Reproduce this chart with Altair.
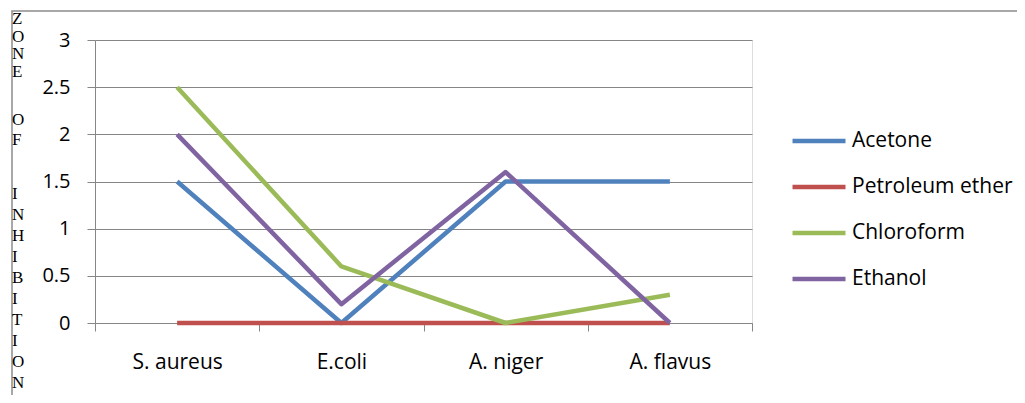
import altair as alt
import pandas as pd

categories = ["S. aureus", "E.coli", "A. niger", "A. flavus"]
series = ["Acetone", "Petroleum ether", "Chloroform", "Ethanol"]
acetone = [1.5, 0.0, 1.5, 1.5]
petroleum_ether = [0.0, 0.0, 0.0, 0.0]
chloroform = [2.5, 0.6, 0.0, 0.3]
ethanol = [2.0, 0.2, 1.6, 0.0]
colors = ["#4F81BD", "#C0504D", "#9BBB59", "#8064A2"]
y_ticks = [0, 0.5, 1, 1.5, 2, 2.5, 3]
y_title_words = ["ZONE", "OF", "INHIBITION"]
y_title_top = [-29, 72, 146]
y_title_line_height = [17.7, 20, 21.0]

rows = []
for name, vals in zip(series, [acetone, petroleum_ether, chloroform, ethanol]):
    for c, v in zip(categories, vals):
        rows.append({"organism": c, "solvent": name, "value": v})
df = pd.DataFrame(rows)

GRAY = "#868686"

lines = alt.Chart(df).mark_line(strokeWidth=4.5, strokeJoin="round").encode(
    x=alt.X("organism:N", sort=categories,
            scale=alt.Scale(type="band", paddingInner=0, paddingOuter=0),
            axis=alt.Axis(title=None, tickBand="extent", labelAngle=0, grid=False,
                          domainColor=GRAY, tickColor=GRAY, tickSize=8,
                          labelFont="Open Sans", labelFontSize=21, labelColor="black",
                          labelPadding=31, labelBaseline="middle")),
    y=alt.Y("value:Q", scale=alt.Scale(domain=[0, 3], nice=False),
            axis=alt.Axis(values=y_ticks, title=None, labelExpr="'' + datum.value",
                          grid=True, gridColor=GRAY, gridWidth=1,
                          domainColor=GRAY, tickColor=GRAY, tickSize=8,
                          labelFont="Open Sans", labelFontSize=20, labelColor="black",
                          labelPadding=17)),
    color=alt.Color("solvent:N", sort=series,
                    scale=alt.Scale(domain=series, range=colors),
                    legend=alt.Legend(title=None, orient="none", legendX=695, legendY=89,
                                      symbolType="stroke", symbolStrokeWidth=4.5,
                                      symbolSize=2809, clipHeight=24, rowPadding=22,
                                      labelOffset=4, labelFont="Open Sans", labelLimit=400,
                                      labelFontSize=21, labelColor="black", padding=0)),
    order=alt.Order("organism_idx:Q"),
).transform_calculate(
    organism_idx="indexof(['S. aureus','E.coli','A. niger','A. flavus'], datum.organism)"
)

title_layers = []
for word, top, lh in zip(y_title_words, y_title_top, y_title_line_height):
    title_layers.append(
        alt.Chart(alt.Data(values=[{"t": list(word)}])).mark_text(
            align="left", baseline="top", font="Liberation Serif", fontSize=17,
            lineHeight=lh, color="black"
        ).encode(text="t:N", x=alt.value(-83), y=alt.value(top))
    )

frame = alt.Chart(alt.Data(values=[{"k": 1}])).mark_rect(
    fill=None, stroke="#8c8c8c", strokeWidth=1.5
).encode(
    x=alt.value(-83), x2=alt.value(960), y=alt.value(-29), y2=alt.value(420)
)

chart = alt.layer(frame, *title_layers, lines).properties(
    width=657, height=283,
    padding={"left": 87, "top": 32, "right": 265, "bottom": 72},
    autosize=alt.AutoSizeParams(type="none"),
).configure_view(stroke=None).configure(background="white")

chart.save("out.html", embed_options={"renderer": "svg", "actions": False})
